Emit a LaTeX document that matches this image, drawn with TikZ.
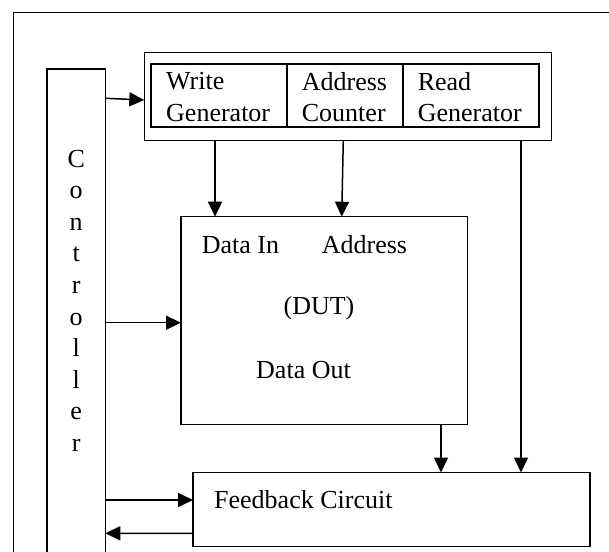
\documentclass[tikz,border=0pt]{standalone}
\usepackage{fontspec}
\setmainfont{Liberation Serif}
\usetikzlibrary{arrows.meta,calc}
\begin{document}
\begin{tikzpicture}[x=1pt,y=-1pt,
  box/.style={draw,line width=1.1pt,inner sep=0pt,outer sep=0pt},
  cell/.style={draw,line width=1.7pt,inner sep=0pt,outer sep=0pt,minimum height=63.3pt},
  lbl/.style={inner sep=0pt,font=\fontsize{26}{31.6}\selectfont},
  conn/.style={line width=1.5pt,-{Triangle[length=15pt,width=14pt]}},
]
\useasboundingbox (0,0) rectangle (609,551);
\clip (0,0) rectangle (609,551);
% outer frame (right and bottom edges lie outside the picture)
\node[box,line width=1pt,minimum width=616.7pt,minimum height=567.3pt] (frame) at (321.65,296.35) {};
% controller
\node[box,minimum width=58.3pt,minimum height=511pt] (ctrl) at (76.15,324.5) {};
\node[lbl,align=center] (ctrlt) at (76.2,300.6) {C\\o\\n\\t\\r\\o\\l\\l\\e\\r};
% generator block
\node[box,line width=1pt,minimum width=407.4pt,minimum height=87.7pt] (genout) at (348,96.15) {};
\node[cell,minimum width=136.6pt] (wg) at (219,95.65) {};
\node[cell,minimum width=116pt] (ac) at (345.3,95.65) {};
\node[cell,minimum width=136pt] (rg) at (471.3,95.65) {};
\node[lbl,align=left,anchor=west] (wgt) at (166,97) {Write\\Generator};
\node[lbl,align=left,anchor=west] (act) at (301.7,97) {Address\\Counter};
\node[lbl,align=left,anchor=west] (rgt) at (417.6,97) {Read\\Generator};
% DUT
\node[box,line width=1.3pt,minimum width=286.7pt,minimum height=207.6pt] (dut) at (324.35,320.5) {};
\node[lbl,anchor=west] (din) at (201.7,245) {Data In};
\node[lbl,anchor=west] (dad) at (321.7,245) {Address};
\node[lbl] (dname) at (319,308) {(DUT)};
\node[lbl] (dout) at (303.5,370) {Data Out};
% feedback
\node[box,line width=1.3pt,minimum width=397pt,minimum height=74.2pt] (fb) at (391.5,509.6) {};
\node[lbl,anchor=west] (fbt) at (214,500) {Feedback Circuit};
% connectors
\draw[conn] ($(ctrl.north east)+(0,29.3)$) -- ($(genout.north west)+(0,47.7)$);
\draw[conn] ($(genout.south west)+(70.7,0)$) -- ($(dut.north west)+(34,0)$);
\draw[conn] ($(genout.south west)+(199,0)$) -- ($(dut.north west)+(160.7,0)$);
\draw[conn] ($(genout.south west)+(376.7,0)$) -- ($(fb.north west)+(328,0)$);
\draw[conn] ($(ctrl.north east)+(0,253.7)$) -- ($(dut.north west)+(0,106)$);
\draw[conn] ($(dut.south west)+(260,0)$) -- ($(fb.north west)+(248,0)$);
\draw[conn] ($(ctrl.north east)+(0,431)$) -- ($(fb.north west)+(0,27.5)$);
\draw[conn] ($(fb.north west)+(0,60.8)$) -- ($(ctrl.north east)+(0,464.3)$);
\end{tikzpicture}
\end{document}
